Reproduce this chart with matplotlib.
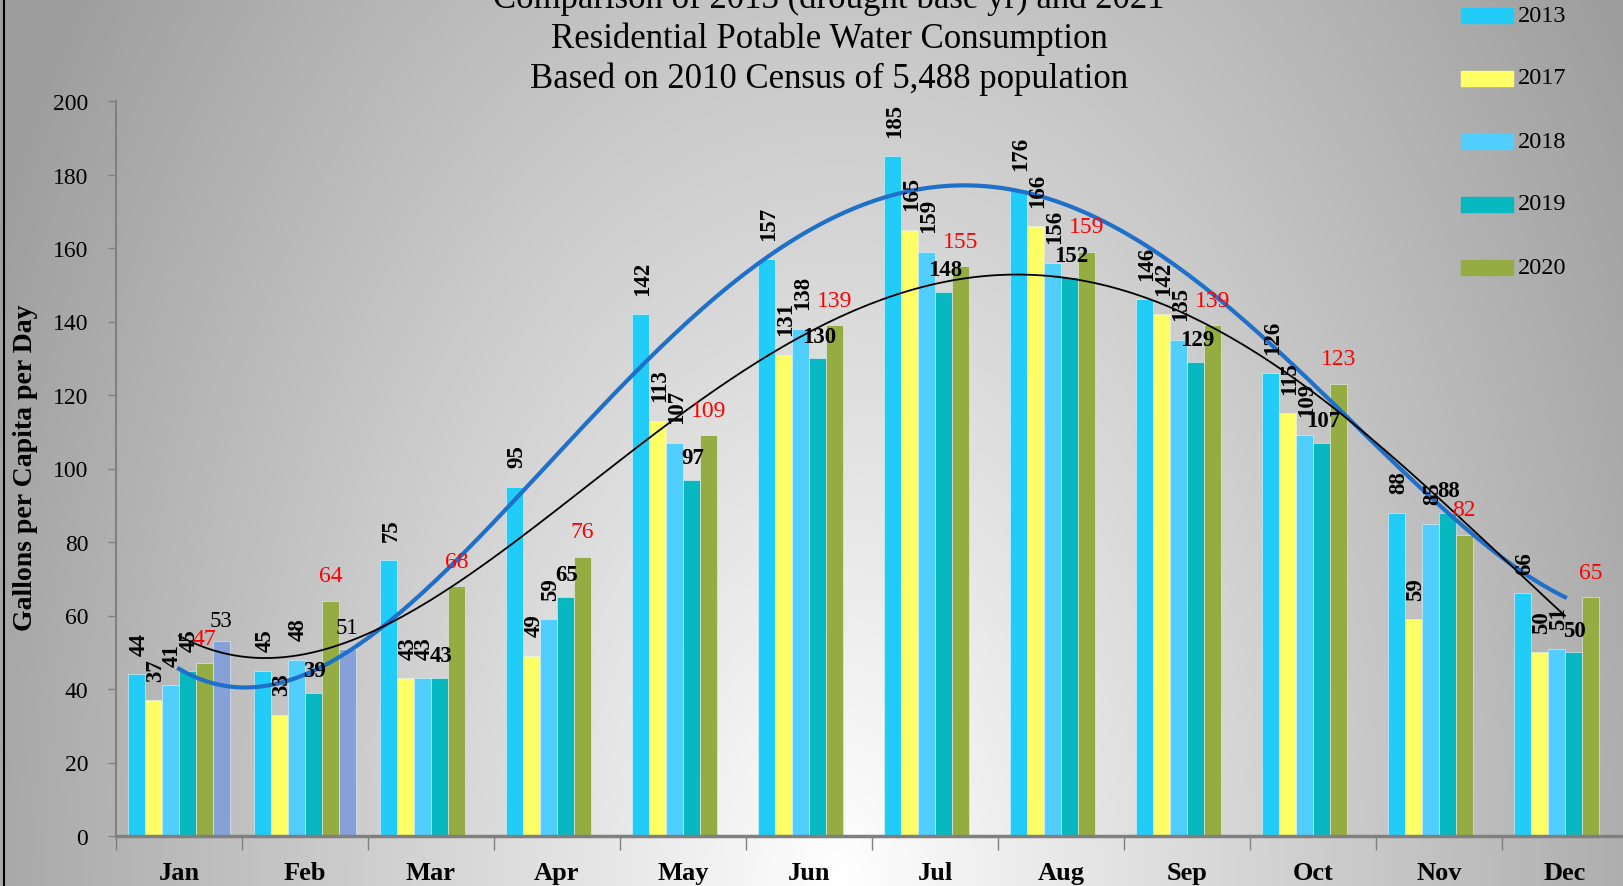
import numpy as np
import matplotlib.pyplot as plt
from matplotlib.patches import Rectangle
from matplotlib.lines import Line2D

months = ['Jan', 'Feb', 'Mar', 'Apr', 'May', 'Jun', 'Jul', 'Aug', 'Sep', 'Oct', 'Nov', 'Dec']
years = ['2013', '2017', '2018', '2019', '2020', '2021']
y2013 = [44, 45, 75, 95, 142, 157, 185, 176, 146, 126, 88, 66]
y2017 = [37, 33, 43, 49, 113, 131, 165, 166, 142, 115, 59, 50]
y2018 = [41, 48, 43, 59, 107, 138, 159, 156, 135, 109, 85, 51]
y2019 = [45, 39, 43, 65, 97, 130, 148, 152, 129, 107, 88, 50]
y2020 = [47, 64, 68, 76, 109, 139, 155, 159, 139, 123, 82, 65]
y2021 = [53, 51]
series = [y2013, y2017, y2018, y2019, y2020, y2021]
colors = ['#22ccf8', '#ffff66', '#50cfff', '#08b8c0', '#94ac42', '#86a0d8']

plt.rcParams['font.family'] = ['Liberation Serif', 'DejaVu Serif']

W, H = 1624, 887
fig = plt.figure(figsize=(W / 100, H / 100), dpi=100)

# gray radial background
bg = fig.add_axes([0, 0, 1, 1], zorder=-10)
xx, yy = np.meshgrid(np.arange(W), np.arange(H))
r = np.sqrt((0.34 * (xx - 840) / 840) ** 2 + (0.22 * (yy - 880) / 870) ** 2)
gray = np.clip(1 - r, 0.62, 1)
bg.imshow(np.dstack([gray] * 3), aspect='auto', extent=[0, W, H, 0])
bg.set_xlim(0, W)
bg.set_ylim(H, 0)
bg.axis('off')
fig.add_artist(Line2D([4 / W, 4 / W], [0, 1], color='black', lw=1.5))

ax = fig.add_axes([116 / W, 1 - 837 / H, (1628 - 116) / W, (837 - 102) / H])
ax.patch.set_alpha(0)

x = np.arange(12)
bw = 0.134
for k, (vals, c) in enumerate(zip(series, colors)):
    xs = x[:len(vals)] + (k - 2.5) * bw
    ax.bar(xs, vals, width=bw, color=c, edgecolor='#e6f4f8', linewidth=0.4, zorder=2)
    for xi, v in zip(xs, vals):
        if k <= 2 or (k == 3 and xi < 0.5):
            ax.annotate(str(v), (xi, v), xytext=(1.5, 14), textcoords='offset points',
                        rotation=90, ha='center', va='bottom', fontsize=16.5,
                        fontweight='bold', zorder=5)
        elif k == 3:
            ax.annotate(str(v), (xi, v), xytext=(1, 16), textcoords='offset points',
                        ha='center', va='center', fontsize=16.5, fontweight='bold', zorder=5)
        elif k == 4:
            ax.annotate(str(v), (xi, v), xytext=(0, 18), textcoords='offset points',
                        ha='center', va='center', fontsize=17, color='red', zorder=5)
        else:
            ax.annotate(str(v), (xi, v), xytext=(0, 15), textcoords='offset points',
                        ha='center', va='center', fontsize=16.5, zorder=5)

# polynomial trendlines (order 4), like the spreadsheet ones
xt = np.linspace(0, 11, 200)
p = np.polyfit(x + 1, y2013, 4)
ax.plot(xt, np.polyval(p, xt + 1), color='#1f70c8', lw=3, zorder=3)
p = np.polyfit(x + 1, y2020, 4)
ax.plot(xt, np.polyval(p, xt + 1), color='black', lw=1.3, zorder=3)

ax.set_xlim(-0.5, 11.5)
ax.set_ylim(0, 200)
ax.set_yticks(np.arange(0, 201, 20))
ax.tick_params(axis='y', length=6, width=1, color='#808080', pad=14, labelsize=17)
ax.set_xticks(x)
ax.set_xticklabels(months, fontsize=19, fontweight='bold')
ax.tick_params(axis='x', length=0, pad=18)
ax.set_xticks(np.arange(-0.5, 12, 1), minor=True)
ax.tick_params(axis='x', which='minor', length=10, width=1, color='#808080')
for s in ['top', 'right']:
    ax.spines[s].set_visible(False)
ax.spines['left'].set_color('#808080')
ax.spines['left'].set_linewidth(1.5)
ax.spines['bottom'].set_color('#808080')
ax.spines['bottom'].set_linewidth(2.5)
fig.text(26 / W, 1 - 468 / H, 'Gallons per Capita per Day', rotation=90,
         ha='center', va='center', fontsize=20, fontweight='bold')

title = ['Comparison of 2013 (drought base yr) and 2021',
         'Residential Potable Water Consumption',
         'Based on 2010 Census of 5,488 population']
for i, t in enumerate(title):
    fig.text(829 / W, 1 - (-1 + 40 * i) / H, t, ha='center', va='center', fontsize=25)

# legend
for i in range(5):
    yc = 16 + 63 * i
    fig.add_artist(Rectangle((1461 / W, 1 - (yc + 7.5) / H), 52 / W, 15 / H,
                             transform=fig.transFigure, color=colors[i]))
    fig.text(1518 / W, 1 - yc / H, years[i], ha='left', va='center', fontsize=17.5)

fig.savefig('out.png', dpi=100)
